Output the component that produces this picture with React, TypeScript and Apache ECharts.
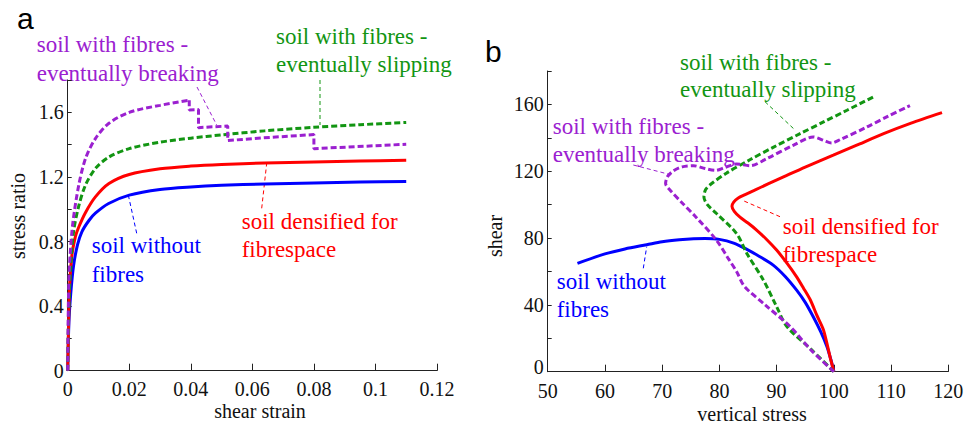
import { useEffect, useRef } from 'react';
import * as echarts from 'echarts';

// ---- panel a: stress ratio against shear strain ----
const strainTickLabels = ['0', '0.02', '0.04', '0.06', '0.08', '0.1', '0.12'];
const ratioTickLabels = ['0', '0.4', '0.8', '1.2', '1.6'];

const strainBlue: [number, number][] = [
  [0, 0], [0.0004, 0.3], [0.001, 0.48], [0.0019, 0.65], [0.0032, 0.78], [0.0046, 0.86],
  [0.0069, 0.93], [0.009, 0.975], [0.0133, 1.035], [0.02, 1.087], [0.03, 1.122],
  [0.04, 1.138], [0.05, 1.148], [0.064, 1.156], [0.08, 1.163], [0.095, 1.168], [0.11, 1.171],
];
const strainRed: [number, number][] = [
  [0, 0], [0.0003, 0.3], [0.0006, 0.52], [0.0014, 0.72], [0.0025, 0.83], [0.0036, 0.89],
  [0.0058, 0.98], [0.009, 1.076], [0.0134, 1.159], [0.02, 1.215], [0.03, 1.25],
  [0.04, 1.267], [0.05, 1.277], [0.064, 1.286], [0.08, 1.293], [0.095, 1.298], [0.11, 1.303],
];
const strainGreen: [number, number][] = [
  [0, 0], [0.0003, 0.35], [0.0009, 0.62], [0.0019, 0.86], [0.0036, 1.02], [0.0058, 1.15],
  [0.009, 1.252], [0.0134, 1.323], [0.02, 1.375], [0.03, 1.415], [0.04, 1.44],
  [0.05, 1.46], [0.064, 1.485], [0.08, 1.507], [0.095, 1.523], [0.11, 1.537],
];
const strainPurpleRise: [number, number][] = [
  [0, 0], [0.0003, 0.5], [0.0008, 0.72], [0.0017, 0.92], [0.0036, 1.15], [0.0058, 1.314],
  [0.009, 1.437], [0.0134, 1.532], [0.02, 1.6], [0.03, 1.643], [0.0395, 1.675],
];
const strainPurpleSteps: [number, number][] = [
  [0.0395, 1.675], [0.0395, 1.615], [0.0425, 1.617], [0.0425, 1.505], [0.052, 1.515],
  [0.052, 1.425], [0.066, 1.445], [0.08, 1.462], [0.08, 1.375], [0.11, 1.402],
];

// ---- panel b: shear against vertical stress ----
const stressTickLabels = ['50', '60', '70', '80', '90', '100', '110', '120'];
const shearTickLabels = ['0', '40', '80', '120', '160'];

const pathBlue: [number, number][] = [
  [55.2, 64.8], [60, 70.5], [63.5, 73.5], [67.3, 76], [70, 77.8], [73, 79], [75.5, 79.6],
  [77.5, 79.7], [80, 79.2], [82.5, 77], [84.8, 73.2], [87, 69], [89.4, 63.8], [91.5, 57],
  [93.5, 48.8], [95, 41.5], [96.4, 32.9], [97.7, 24], [98.8, 15], [99.5, 7], [100, 0],
];
const pathRed: [number, number][] = [
  [100, 0], [99.4, 8], [98.2, 24.9], [97, 34], [95.9, 42.9], [94.7, 50], [93.5, 56.8],
  [91.8, 65], [90, 72.8], [88.3, 79], [86.5, 84.8], [85, 89], [83.6, 92.5], [82.6, 96],
  [82.2, 99], [82.5, 101.5], [83.3, 104], [84.5, 106], [86, 108.4], [88.5, 112.4],
  [91.2, 116.6], [95, 122.5], [99.9, 129.6], [104, 135.6], [108.7, 142.5], [113.5, 148.8],
  [118.9, 155.1],
];
const pathGreen: [number, number][] = [
  [100, 0], [96, 13.5], [91.8, 27], [90, 38.9], [87.7, 54.8], [84.8, 70.8], [83, 82.7],
  [79.5, 94.7], [77.9, 100], [77.3, 104.6], [77.6, 109], [78.6, 112.5], [81.3, 119],
  [85.4, 127], [89.4, 134.3], [94.1, 142.5], [98.2, 149.5], [102.3, 156.5], [107.3, 165.2],
];
const pathPurple: [number, number][] = [
  [100, 0], [96, 13], [92.4, 26.9], [88, 40], [84.4, 51], [83, 60], [81.6, 67.5],
  [79.5, 78.7], [76, 92.2], [73.5, 101], [71.4, 108.6], [70.6, 112.6], [70.9, 116.6],
  [72, 120.3], [73.5, 122.6], [75.5, 123.3], [77.5, 121.6], [79.3, 120.5], [81, 122.3],
  [83, 124.3], [85.4, 123.3], [88.3, 127.6], [92.9, 135.5], [96.4, 140.5], [98.2, 138.5],
  [99.6, 136.9], [101.1, 138.9], [105.8, 146.5], [109.5, 153], [113.3, 159.3],
];

const SERIF = "'Liberation Serif', 'Times New Roman', serif";
const SANS = "'Liberation Sans', Arial, sans-serif";
const BLUE = '#0000ff';
const RED = '#ff0000';
const GREEN = '#129512';
const PURPLE = '#9b20d0';
const AXIS = '#222222';
const INK = '#111111';

const DASH = [6, 3];

function note(text: string, x: number, baseline: number, color: string, size = 23) {
  return {
    type: 'text',
    x,
    y: baseline - 0.3 * size,
    silent: true,
    style: { text, fill: color, fontSize: size, fontFamily: SERIF, align: 'left', verticalAlign: 'middle' },
  };
}

function leader(x1: number, y1: number, x2: number, y2: number, color: string) {
  return {
    type: 'line',
    silent: true,
    shape: { x1, y1, x2, y2 },
    style: { stroke: color, lineWidth: 1, lineDash: [4, 3] },
  };
}

function axisName(text: string, x: number, y: number, vertical: boolean) {
  return {
    type: 'text',
    x,
    y,
    rotation: vertical ? Math.PI / 2 : 0,
    silent: true,
    style: { text, fill: INK, fontSize: 20, fontFamily: SERIF, align: 'center', verticalAlign: 'middle' },
  };
}

function fmt(v: number, labels: string[]) {
  const s = String(+v.toFixed(3));
  return labels.includes(s) ? s : '';
}

function lineSeries(data: [number, number][], color: string, axis: number, dashed: boolean, smooth: number | boolean) {
  return {
    type: 'line',
    xAxisIndex: axis,
    yAxisIndex: axis,
    data,
    showSymbol: false,
    smooth,
    clip: false,
    lineStyle: { color, width: 3, type: dashed ? DASH : 'solid' },
    emphasis: { disabled: true },
  };
}

const baseAxis = {
  type: 'value',
  splitLine: { show: false },
  axisLine: { show: true, onZero: false, lineStyle: { color: AXIS, width: 1 } },
  axisTick: { show: true, inside: true, lineStyle: { color: AXIS, width: 1 } },
  axisLabel: { color: INK, fontSize: 20, fontFamily: SERIF },
};

export default function App() {
  const ref = useRef<HTMLDivElement>(null);

  useEffect(() => {
    if (!ref.current) return;
    const chart = echarts.init(ref.current, undefined, { renderer: 'svg' });
    chart.setOption({
      animation: false,
      backgroundColor: '#ffffff',
      grid: [
        { left: 67.7, top: 80, width: 369.3, height: 290.7 },
        { left: 547.7, top: 71, width: 400.6, height: 300.7 },
      ],
      xAxis: [
        {
          ...baseAxis, gridIndex: 0, min: 0, max: 0.12, interval: 0.02,
          axisTick: { ...baseAxis.axisTick, length: 7 },
          axisLabel: { ...baseAxis.axisLabel, margin: 8, lineHeight: 20, formatter: (v: number) => fmt(v, strainTickLabels) },
        },
        {
          ...baseAxis, gridIndex: 1, min: 50, max: 120, interval: 10,
          axisTick: { ...baseAxis.axisTick, length: 7 },
          axisLabel: { ...baseAxis.axisLabel, margin: 9, lineHeight: 20, formatter: (v: number) => fmt(v, stressTickLabels) },
        },
      ],
      yAxis: [
        {
          ...baseAxis, gridIndex: 0, min: 0, max: 1.8, interval: 0.2,
          axisTick: { ...baseAxis.axisTick, length: 4 },
          axisLabel: { ...baseAxis.axisLabel, margin: 4, lineHeight: 14, formatter: (v: number) => fmt(v, ratioTickLabels) },
        },
        {
          ...baseAxis, gridIndex: 1, min: 0, max: 180, interval: 20,
          axisTick: { ...baseAxis.axisTick, length: 4 },
          axisLabel: {
            ...baseAxis.axisLabel, margin: 4, lineHeight: 14,
            // the zero label sits a little higher so it clears the "50" below it
            formatter: (v: number) => {
              const s = fmt(v, shearTickLabels);
              return s === '0' ? '{z|0}' : s;
            },
            rich: { z: { color: INK, fontSize: 20, fontFamily: SERIF, lineHeight: 14, padding: [0, 0, 9, 0] } },
          },
        },
      ],
      series: [
        lineSeries(strainBlue, BLUE, 0, false, 0.3),
        lineSeries(strainRed, RED, 0, false, 0.3),
        lineSeries(strainGreen, GREEN, 0, true, 0.3),
        lineSeries(strainPurpleRise, PURPLE, 0, true, 0.3),
        lineSeries(strainPurpleSteps, PURPLE, 0, true, false),
        lineSeries(pathBlue, BLUE, 1, false, 0.3),
        lineSeries(pathRed, RED, 1, false, 0.25),
        lineSeries(pathGreen, GREEN, 1, true, 0.3),
        lineSeries(pathPurple, PURPLE, 1, true, 0.3),
      ],
      graphic: [
        // panel letters
        { type: 'text', x: 17, y: 18, silent: true, style: { text: 'a', fill: '#000', fontSize: 30, fontFamily: SANS, verticalAlign: 'middle' } },
        { type: 'text', x: 485, y: 51, silent: true, style: { text: 'b', fill: '#000', fontSize: 30, fontFamily: SANS, verticalAlign: 'middle' } },
        // axis names
        axisName('shear strain', 260, 411, false),
        axisName('stress ratio', 18, 216, true),
        axisName('vertical stress', 752, 414, false),
        axisName('shear', 495, 236, true),
        // panel a notes
        note('soil with fibres -', 36.7, 51.5, PURPLE),
        note('eventually breaking', 36.7, 80, PURPLE),
        leader(197, 87, 216.7, 125, PURPLE),
        note('soil with fibres -', 276, 43, GREEN),
        note('eventually slipping', 276, 71.4, GREEN),
        leader(320, 80, 320, 125, GREEN),
        note('soil densified for', 241.7, 228, RED),
        note('fibrespace', 241.7, 256.4, RED),
        leader(261.7, 208.3, 266.7, 163.3, RED),
        note('soil without', 91.7, 252.4, BLUE),
        note('fibres', 91.7, 281.4, BLUE),
        leader(136.7, 233.3, 128.3, 195, BLUE),
        // panel b notes
        note('soil with fibres -', 680, 69.7, GREEN),
        note('eventually slipping', 680, 96.4, GREEN),
        leader(765, 101.7, 795, 130, GREEN),
        note('soil with fibres -', 552.7, 133, PURPLE),
        note('eventually breaking', 552.7, 161.4, PURPLE),
        leader(633.3, 165, 671.7, 175, PURPLE),
        note('soil densified for', 782.7, 233, RED),
        note('fibrespace', 782.7, 261.4, RED),
        leader(780, 216.7, 741.7, 200, RED),
        note('soil without', 556.7, 288, BLUE),
        note('fibres', 556.7, 316.4, BLUE),
        leader(643.3, 268.3, 646.7, 246.7, BLUE),
      ],
    });
    return () => chart.dispose();
  }, []);

  return <div ref={ref} style={{ position: 'fixed', left: 0, top: 0, width: 967, height: 424 }} />;
}
